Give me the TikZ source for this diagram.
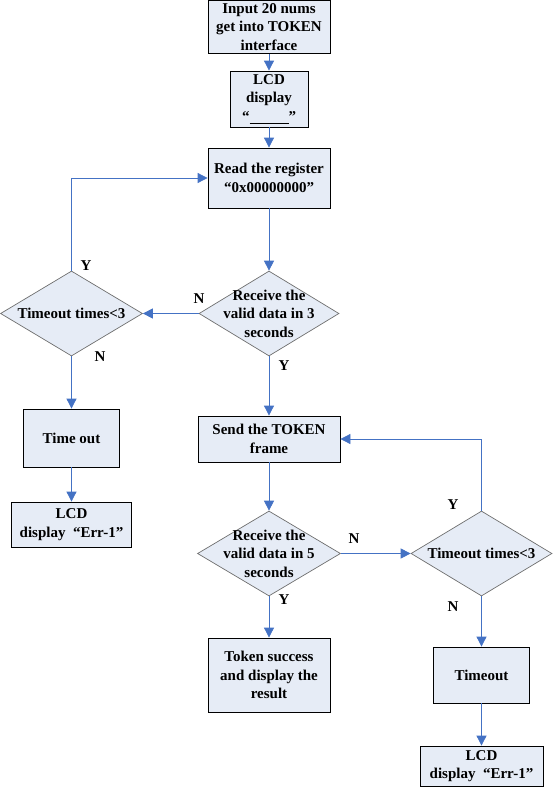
\documentclass[tikz,border=0pt]{standalone}
\usepackage{fontspec}
\setmainfont{Liberation Serif}
\usetikzlibrary{shapes.geometric,arrows.meta}
\definecolor{boxfill}{HTML}{E6ECF6}
\definecolor{arrowblue}{HTML}{4472C4}
\definecolor{diaedge}{HTML}{6E6E6E}
\begin{document}
\begin{tikzpicture}[x=1pt,y=-1pt,
  every node/.style={font=\fontsize{15}{18.5}\selectfont\bfseries},
  procbox/.style={draw=black,line width=0.8pt,fill=boxfill,rectangle,inner sep=0pt,align=center},
  decbox/.style={draw=diaedge,line width=0.7pt,fill=boxfill,diamond,inner sep=0pt},
  dectext/.style={align=center,inner sep=0pt},
  lbl/.style={inner sep=0pt},
  flow/.style={draw=arrowblue,line width=0.8pt,-{Triangle[length=10pt,width=10pt]}}]
\useasboundingbox (0,0) rectangle (553,787);
% center column
\node[procbox,minimum width=122,minimum height=53] (b1) at (269,27) {Input 20 nums\\get into TOKEN\\interface};
\node[procbox,minimum width=78,minimum height=56] (b2) at (269,99) {LCD\\display\\“\underline{\hspace{2.6em}}”};
\node[procbox,minimum width=122,minimum height=60] (b3) at (269,178) {Read the register\\“0x00000000”};
\node[decbox,minimum width=140,minimum height=85] (d1) at (269,313.5) {};
\node[dectext] (d1t) at (d1) {Receive the\\valid data in 3\\seconds};
\node[procbox,minimum width=142,minimum height=46] (send) at (269,439) {Send the TOKEN\\frame};
\node[decbox,minimum width=143,minimum height=85] (d3) at (269,553.5) {};
\node[dectext] (d3t) at (d3) {Receive the\\valid data in 5\\seconds};
\node[procbox,minimum width=122,minimum height=74] (succ) at (269,675) {Token success\\and display the\\result};
% left column
\node[decbox,minimum width=142,minimum height=85] (d2) at (71.5,313.5) {};
\node[dectext] (d2t) at (d2) {Timeout times<3};
\node[procbox,minimum width=96,minimum height=58] (to1) at (71.5,438) {Time out};
\node[procbox,minimum width=120,minimum height=45] (lcd1) at (71.5,524.5) {LCD\\display \ “Err-1”};
% right column
\node[decbox,minimum width=141,minimum height=85] (d4) at (481.5,553.5) {};
\node[dectext] (d4t) at (d4) {Timeout times<3};
\node[procbox,minimum width=96,minimum height=56] (to2) at (481.5,675) {Timeout};
\node[procbox,minimum width=123,minimum height=40] (lcd2) at (481.5,766) {LCD\\display \ “Err-1”};
% connectors
\draw[flow] (b1) -- (b2);
\draw[flow] (b2) -- (b3);
\draw[flow] (b3) -- (d1);
\draw[flow] (d1.west) -- (d2.east);
\draw[flow] (d2.north) |- (b3.west);
\draw[flow] (d2.south) -- (to1.north);
\draw[flow] (to1) -- (lcd1);
\draw[flow] (d1.south) -- (send.north);
\draw[flow] (send.south) -- (d3.north);
\draw[flow] (d3.east) -- (d4.west);
\draw[flow] (d4.north) |- (send.east);
\draw[flow] (d3.south) -- (succ.north);
\draw[flow] (d4.south) -- (to2.north);
\draw[flow] (to2) -- (lcd2);
% labels
\node[lbl] (ly1) at (86,266) {Y};
\node[lbl] (ln1) at (199,299) {N};
\node[lbl] (ln2) at (100,357) {N};
\node[lbl] (ly2) at (284,366) {Y};
\node[lbl] (ln3) at (354,539) {N};
\node[lbl] (ly3) at (453,505) {Y};
\node[lbl] (ly4) at (284,600) {Y};
\node[lbl] (ln4) at (453,607) {N};
\end{tikzpicture}
\end{document}
